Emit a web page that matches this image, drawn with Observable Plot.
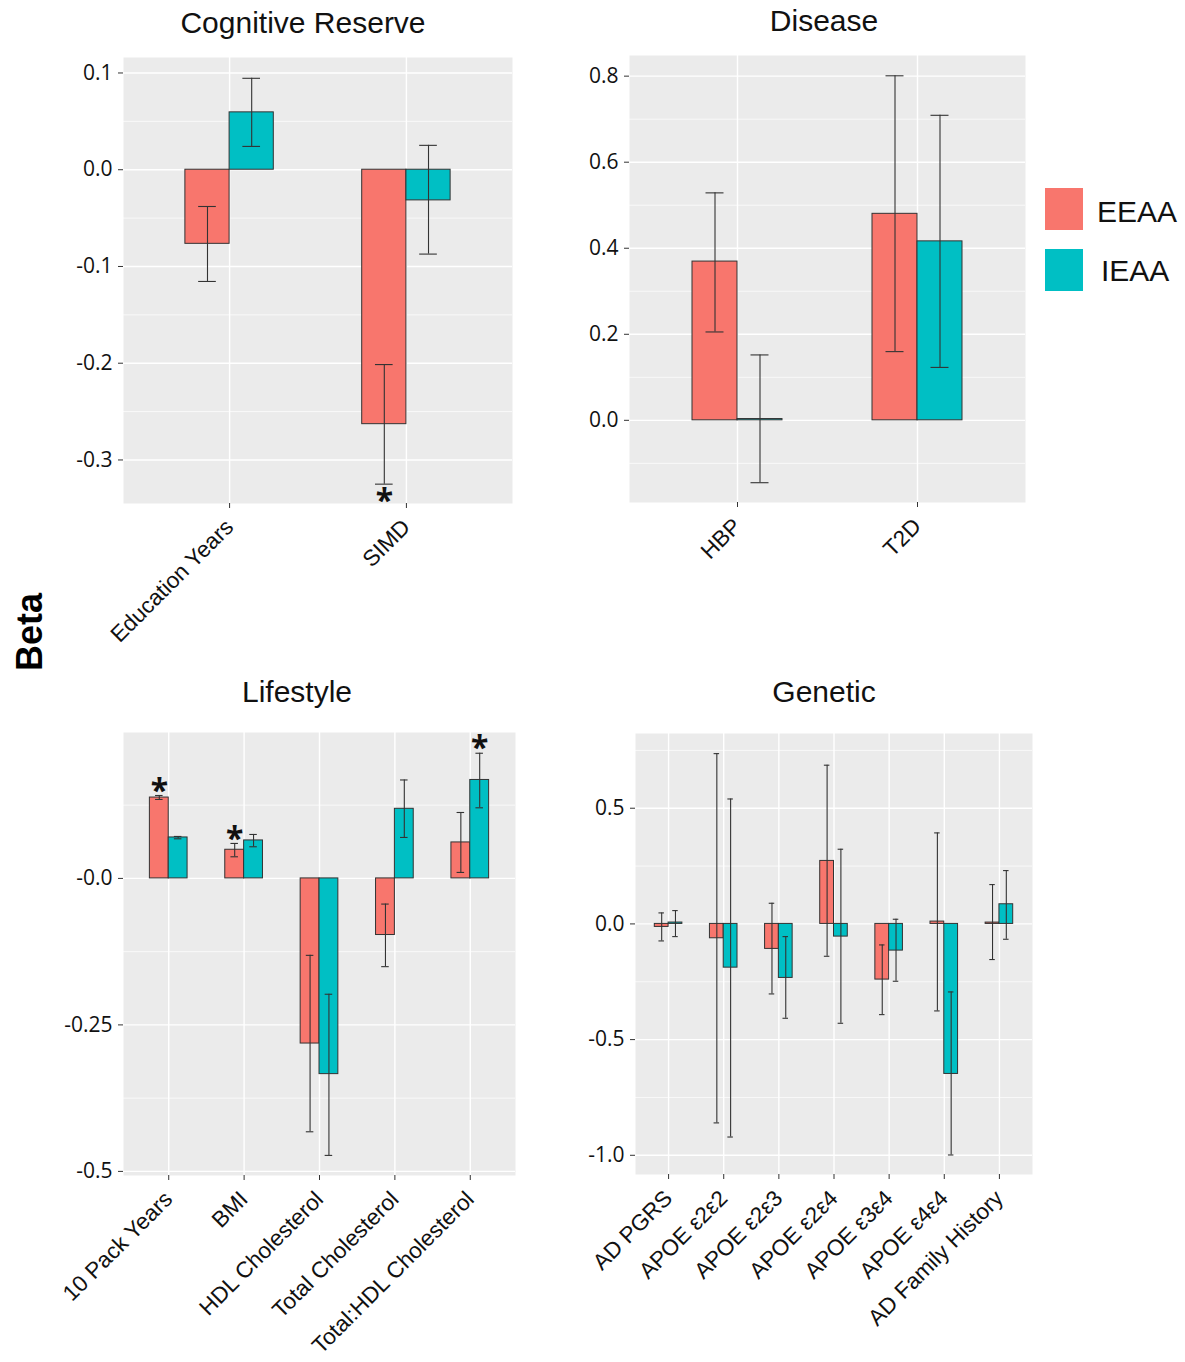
<!DOCTYPE html>
<html>
<head>
<meta charset="utf-8">
<script src="https://cdn.jsdelivr.net/npm/d3@7"></script>
<script src="https://cdn.jsdelivr.net/npm/@observablehq/plot@0.6"></script>
<style>
  html, body { margin: 0; padding: 0; background: white; }
  #page { position: relative; width: 1185px; height: 1362px; overflow: hidden; font-family: "Liberation Sans", Arial, sans-serif; }
  .panel { position: absolute; }
  .title { position: absolute; width: 400px; text-align: center; font-size: 30px; line-height: 30px; color: #111; white-space: nowrap; }
  .legsq { position: absolute; width: 38px; height: 42px; }
  .legtx { position: absolute; font-size: 30px; line-height: 30px; color: #111; }
  #beta { position: absolute; left: -30px; top: 612px; width: 120px; height: 40px; line-height: 40px; text-align: center; font-size: 36px; font-weight: bold; transform: rotate(-90deg); color: #000; }
</style>
</head>
<body>
<div id="page">
  <div class="title" style="left:103px; top:8px;">Cognitive Reserve</div>
  <div class="title" style="left:624px; top:6px;">Disease</div>
  <div class="title" style="left:97px; top:677px;">Lifestyle</div>
  <div class="title" style="left:624px; top:677px;">Genetic</div>
  <div id="beta">Beta</div>
  <div class="legsq" style="left:1045px; top:188px; background:#F8766D;"></div>
  <div class="legsq" style="left:1045px; top:249px; background:#00BFC4;"></div>
  <div class="legtx" style="left:1097px; top:197px;">EEAA</div>
  <div class="legtx" style="left:1101px; top:256px;">IEAA</div>
</div>
<script>
// ---------- DATA ----------
const seriesNames = ["EEAA", "IEAA"];
const seriesColors = ["#F8766D", "#00BFC4"];

// Cognitive Reserve
const cogCategories = ["Education Years", "SIMD"];
const cogEEAA      = [-0.0766, -0.263];
const cogEEAALow   = [-0.1155, -0.325];
const cogEEAAHigh  = [-0.038, -0.2014];
const cogIEAA      = [0.0593, -0.0317];
const cogIEAALow   = [0.0241, -0.0872];
const cogIEAAHigh  = [0.0945, 0.0252];
const cogTicks      = [-0.3, -0.2, -0.1, 0, 0.1];
const cogTickLabels = ["-0.3", "-0.2", "-0.1", "0.0", "0.1"];
const cogMinor      = [-0.25, -0.15, -0.05, 0.05];
const cogStars = [{category: "SIMD", series: "EEAA", side: "below"}];

// Disease
const disCategories = ["HBP", "T2D"];
const disEEAA      = [0.369, 0.48];
const disEEAALow   = [0.2054, 0.1597];
const disEEAAHigh  = [0.5287, 0.8008];
const disIEAA      = [0.003, 0.416];
const disIEAALow   = [-0.145, 0.123];
const disIEAAHigh  = [0.152, 0.709];
const disTicks      = [0, 0.2, 0.4, 0.6, 0.8];
const disTickLabels = ["0.0", "0.2", "0.4", "0.6", "0.8"];
const disMinor      = [-0.1, 0.1, 0.3, 0.5, 0.7];
const disStars = [];

// Lifestyle
const lifeCategories = ["10 Pack Years", "BMI", "HDL Cholesterol", "Total Cholesterol", "Total:HDL Cholesterol"];
const lifeEEAA      = [0.138, 0.0489, -0.2818, -0.0966, 0.0614];
const lifeEEAALow   = [0.1347, 0.0369, -0.4324, -0.1506, 0.0102];
const lifeEEAAHigh  = [0.1415, 0.0597, -0.1313, -0.0438, 0.1125];
const lifeIEAA      = [0.0699, 0.0648, -0.334, 0.1188, 0.168];
const lifeIEAALow   = [0.0676, 0.054, -0.4727, 0.0699, 0.1205];
const lifeIEAAHigh  = [0.0716, 0.075, -0.1977, 0.168, 0.2136];
const lifeTicks      = [-0.5, -0.25, 0];
const lifeTickLabels = ["-0.5", "-0.25", "-0.0"];
const lifeMinor      = [-0.375, -0.125, 0.125];
const lifeStars = [
  {category: "10 Pack Years", series: "EEAA", side: "above"},
  {category: "BMI", series: "EEAA", side: "above"},
  {category: "Total:HDL Cholesterol", series: "IEAA", side: "above"}
];

// Genetic
const genCategories = ["AD PGRS", "APOE \u03b52\u03b52", "APOE \u03b52\u03b53", "APOE \u03b52\u03b54", "APOE \u03b53\u03b54", "APOE \u03b54\u03b54", "AD Family History"];
const genEEAA      = [-0.013, -0.062, -0.108, 0.2723, -0.2406, 0.0101, 0.0058];
const genEEAALow   = [-0.0735, -0.860, -0.3026, -0.1398, -0.392, -0.376, -0.154];
const genEEAAHigh  = [0.0476, 0.736, 0.0893, 0.686, -0.0908, 0.3934, 0.170];
const genIEAA      = [0.006, -0.189, -0.2334, -0.0548, -0.1153, -0.6484, 0.085];
const genIEAALow   = [-0.0548, -0.921, -0.4078, -0.4294, -0.2478, -0.9986, -0.0663];
const genIEAAHigh  = [0.0576, 0.540, -0.0548, 0.3228, 0.0202, -0.294, 0.2305];
const genTicks      = [-1, -0.5, 0, 0.5];
const genTickLabels = ["-1.0", "-0.5", "0.0", "0.5"];
const genMinor      = [-0.75, -0.25, 0.25, 0.75];
const genStars = [];

// ---------- BUILD ----------
const DODGE = 0.125, HALF = 0.125, CAP = 0.05;

function buildRows(cats, e, eLo, eHi, iv, iLo, iHi) {
  const rows = [];
  cats.forEach((c, k) => {
    rows.push({category: c, idx: k + 1, series: "EEAA", center: k + 1 - DODGE, value: e[k], lo: eLo[k], hi: eHi[k]});
    rows.push({category: c, idx: k + 1, series: "IEAA", center: k + 1 + DODGE, value: iv[k], lo: iLo[k], hi: iHi[k]});
  });
  return rows;
}

function makePanel(cfg) {
  const rows = buildRows(cfg.cats, cfg.e, cfg.eLo, cfg.eHi, cfg.iv, cfg.iLo, cfg.iHi);
  const idx = cfg.cats.map((c, k) => k + 1);
  const starRows = cfg.stars.map(s => Object.assign({side: s.side}, rows.find(r => r.category === s.category && r.series === s.series)));
  const above = starRows.filter(s => s.side === "above");
  const below = starRows.filter(s => s.side === "below");
  const labelOf = new Map(cfg.ticks.map((t, k) => [t, cfg.tickLabels[k]]));
  const chart = Plot.plot({
    width: cfg.width, height: cfg.height,
    marginLeft: cfg.mL, marginRight: cfg.mR, marginTop: cfg.mT, marginBottom: cfg.mB,
    style: {background: "transparent", overflow: "visible"},
    x: {domain: [0.4, cfg.cats.length + 0.6]},
    y: {domain: cfg.domain},
    color: {domain: seriesNames, range: seriesColors},
    marks: [
      Plot.frame({fill: "#EBEBEB", stroke: "none"}),
      Plot.ruleY(cfg.minor, {stroke: "white", strokeWidth: 0.7}),
      Plot.ruleY(cfg.ticks, {stroke: "white", strokeWidth: 1.4}),
      Plot.ruleX(idx, {stroke: "white", strokeWidth: 1.4}),
      Plot.rect(rows, {
        x1: d => d.center - HALF, x2: d => d.center + HALF,
        y1: () => 0, y2: "value",
        fill: "series", stroke: "#333", strokeWidth: 1
      }),
      Plot.ruleX(rows, {x: "center", y1: "lo", y2: "hi", stroke: "#333", strokeWidth: 1.1}),
      Plot.ruleY(rows, {y: "lo", x1: d => d.center - CAP, x2: d => d.center + CAP, stroke: "#333", strokeWidth: 1.1}),
      Plot.ruleY(rows, {y: "hi", x1: d => d.center - CAP, x2: d => d.center + CAP, stroke: "#333", strokeWidth: 1.1}),
      Plot.text(above, {x: "center", y: "hi", text: () => "*", dy: -4, fontSize: 32, fontWeight: "bold", fill: "#111", lineAnchor: "middle"}),
      Plot.text(below, {x: "center", y: "lo", text: () => "*", dy: 18, fontSize: 32, fontWeight: "bold", fill: "#111", lineAnchor: "middle"}),
      Plot.axisY({ticks: cfg.ticks, tickFormat: t => labelOf.get(t), tickSize: 5, tickPadding: 6,
        fontSize: 21, fontFamily: "'Open Sans', sans-serif", fill: "#111", stroke: "#333", label: null}),
      Plot.axisX({ticks: idx, tickFormat: i => cfg.cats[i - 1], tickSize: 5, tickPadding: 15, tickRotate: -45,
        fontSize: 22.5, fontFamily: "'Liberation Sans', Arial, sans-serif", fill: "#111", stroke: "#333", label: null})
    ]
  });
  const holder = document.createElement("div");
  holder.className = "panel";
  holder.style.left = cfg.left + "px";
  holder.style.top = cfg.top + "px";
  holder.appendChild(chart);
  document.getElementById("page").appendChild(holder);
}

makePanel({cats: cogCategories, e: cogEEAA, eLo: cogEEAALow, eHi: cogEEAAHigh, iv: cogIEAA, iLo: cogIEAALow, iHi: cogIEAAHigh,
  ticks: cogTicks, tickLabels: cogTickLabels, minor: cogMinor, stars: cogStars, domain: [-0.345, 0.116],
  left: 0, top: 45, width: 525, height: 620, mL: 123, mR: 13, mT: 12, mB: 162});
makePanel({cats: disCategories, e: disEEAA, eLo: disEEAALow, eHi: disEEAAHigh, iv: disIEAA, iLo: disIEAALow, iHi: disIEAAHigh,
  ticks: disTicks, tickLabels: disTickLabels, minor: disMinor, stars: disStars, domain: [-0.191, 0.848],
  left: 540, top: 45, width: 495, height: 620, mL: 89, mR: 10, mT: 10, mB: 163});
makePanel({cats: lifeCategories, e: lifeEEAA, eLo: lifeEEAALow, eHi: lifeEEAAHigh, iv: lifeIEAA, iLo: lifeIEAALow, iHi: lifeIEAAHigh,
  ticks: lifeTicks, tickLabels: lifeTickLabels, minor: lifeMinor, stars: lifeStars, domain: [-0.507, 0.249],
  left: 0, top: 715, width: 530, height: 647, mL: 123, mR: 15, mT: 17, mB: 187});
makePanel({cats: genCategories, e: genEEAA, eLo: genEEAALow, eHi: genEEAAHigh, iv: genIEAA, iLo: genIEAALow, iHi: genIEAAHigh,
  ticks: genTicks, tickLabels: genTickLabels, minor: genMinor, stars: genStars, domain: [-1.083, 0.823],
  left: 540, top: 715, width: 500, height: 647, mL: 95, mR: 8, mT: 18, mB: 188});
</script>
</body>
</html>
